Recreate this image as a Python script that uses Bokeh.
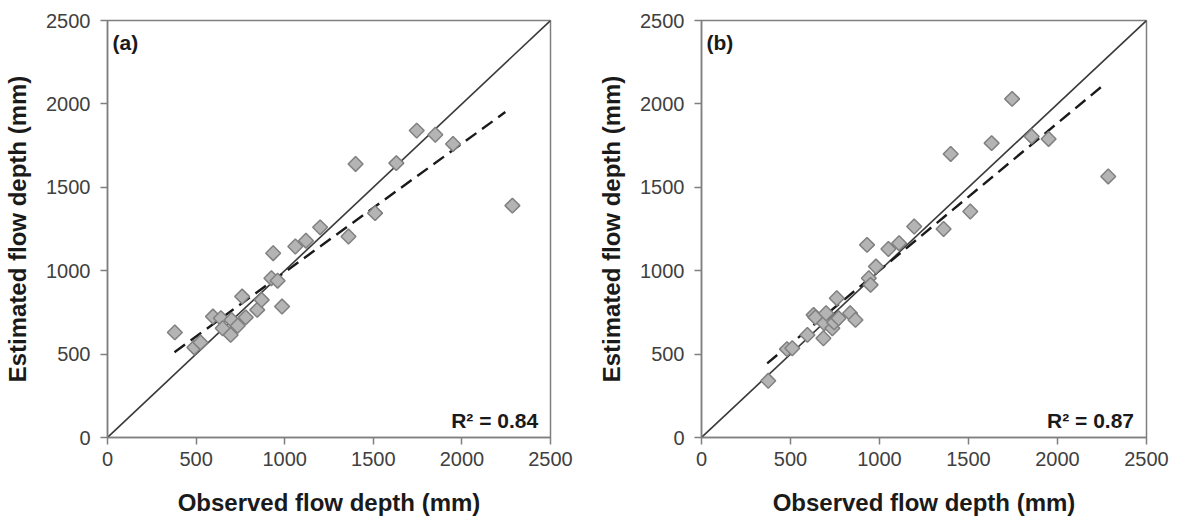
import numpy as np
from bokeh.plotting import figure
from bokeh.layouts import row
from bokeh.models import Range1d, FixedTicker, Label
from bokeh.embed import file_html
from bokeh.resources import INLINE

ticks = [0, 500, 1000, 1500, 2000, 2500]
one_to_one = [0, 2500]

# Panel (a)
obs_a = [380, 490, 525, 595, 640, 650, 695, 700, 735, 760, 780, 845, 870,
         925, 935, 960, 985, 1060, 1120, 1200, 1360, 1400, 1510, 1630, 1745,
         1850, 1950, 2285]
est_a = [630, 540, 570, 725, 715, 655, 615, 705, 670, 845, 720, 765, 825,
         955, 1105, 940, 785, 1145, 1180, 1260, 1205, 1640, 1345, 1645, 1840,
         1815, 1760, 1390]
fit_x_a = [378, 2245]
slope_a = 0.771
intercept_a = 220
r2_a = "R² = 0.84"

# Panel (b)
obs_b = [375, 480, 510, 595, 630, 640, 685, 690, 700, 735, 745, 760, 770,
         835, 865, 930, 940, 950, 980, 1050, 1110, 1195, 1360, 1400, 1510,
         1630, 1745, 1855, 1950, 2285]
est_b = [340, 530, 535, 615, 735, 720, 595, 685, 745, 655, 690, 835, 715,
         745, 705, 1155, 955, 915, 1025, 1130, 1165, 1265, 1250, 1700, 1355,
         1765, 2030, 1805, 1790, 1565]
fit_x_b = [369, 2270]
slope_b = 0.883
intercept_b = 119
r2_b = "R² = 0.87"

FONT = "Liberation Sans"
GRAY = "#7f7f7f"


def make(obs, est, fit_x, slope, intercept, tag, r2, width, left, right):
    p = figure(width=width, height=522, x_range=Range1d(0, 2500),
               y_range=Range1d(0, 2500), output_backend="svg",
               toolbar_location=None, min_border_left=left,
               min_border_right=right, min_border_top=20,
               min_border_bottom=85)
    p.grid.visible = False
    p.outline_line_color = GRAY
    p.outline_line_width = 1.5
    p.background_fill_color = "white"
    p.border_fill_color = "white"
    for ax in p.axis:
        ax.ticker = FixedTicker(ticks=ticks)
        ax.axis_line_color = GRAY
        ax.axis_line_width = 1.5
        ax.major_tick_line_color = GRAY
        ax.major_tick_line_width = 1.5
        ax.major_tick_in = 0
        ax.major_tick_out = 7
        ax.minor_tick_line_color = None
        ax.major_label_text_font = FONT
        ax.major_label_text_font_size = "20px"
        ax.major_label_text_color = "#404040"
        ax.axis_label_text_font = FONT
        ax.axis_label_text_font_style = "bold"
        ax.axis_label_text_color = "#1a1a1a"
        ax.axis_label_text_font_size = "24px"
    p.xaxis.axis_label = "Observed flow depth (mm)"
    p.xaxis.major_label_standoff = 7
    p.xaxis.axis_label_standoff = 20
    p.yaxis.axis_label = "Estimated flow depth (mm)"
    p.yaxis.major_label_standoff = 10
    p.yaxis.axis_label_standoff = 12

    p.line(one_to_one, one_to_one, line_color="#3a3a3a", line_width=1.6)
    fy = [slope * x + intercept for x in fit_x]
    p.line(fit_x, fy, line_color="#1a1a1a", line_width=2.4, line_dash="13 7")
    p.scatter(obs, est, marker="square", angle=np.pi / 4, size=10.5,
              fill_color="#b4b4b4", line_color="#808080", line_width=1.5)

    p.add_layout(Label(x=28, y=2440, text=tag, text_baseline="top",
                       text_font=FONT, text_font_style="bold",
                       text_font_size="21px", text_color="#1a1a1a"))
    p.add_layout(Label(x=2430, y=100, text=r2, text_align="right",
                       text_baseline="alphabetic", text_font=FONT,
                       text_font_style="bold", text_font_size="21px",
                       text_color="#1a1a1a"))
    return p


pa = make(obs_a, est_a, fit_x_a, slope_a, intercept_a, "(a)", r2_a, 594, 107, 44)
pb = make(obs_b, est_b, fit_x_b, slope_b, intercept_b, "(b)", r2_b, 577, 107, 25)

layout = row(pa, pb)
open("out.html", "w").write(file_html(layout, INLINE))
